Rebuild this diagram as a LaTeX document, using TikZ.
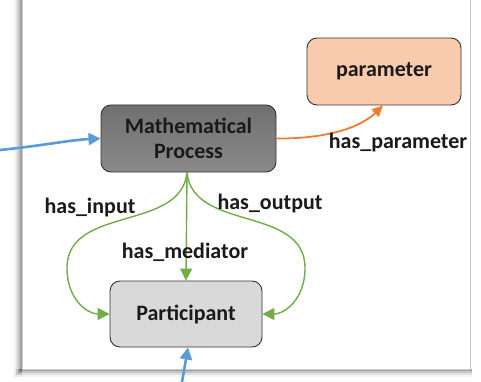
\documentclass[tikz,border=0pt]{standalone}
\usepackage{fontspec}
\setmainfont{Carlito}
\usetikzlibrary{arrows.meta}
\definecolor{txt}{HTML}{1A1A1A}
\definecolor{linkgreen}{HTML}{70AD47}
\definecolor{linkblue}{HTML}{5B9BD5}
\definecolor{linkorange}{HTML}{ED7D31}
\definecolor{peach}{HTML}{F8CBAD}
\definecolor{lightbox}{HTML}{D9D9D9}
\tikzset{
  box/.style={draw=black!80, line width=0.9pt, rounded corners=10pt, inner sep=0pt,
    font=\bfseries\fontsize{22}{25}\selectfont, text=txt, align=center},
  rel/.style={font=\bfseries\fontsize{22}{25}\selectfont, text=txt, inner sep=0pt},
  gline/.style={draw=linkgreen, line width=1.4pt, -{Triangle[length=12pt,width=12pt]}},
  bline/.style={draw=linkblue, line width=2.6pt, -{Triangle[length=12pt,width=12pt]}},
  oline/.style={draw=linkorange, line width=1.8pt, -{Triangle[length=11pt,width=10pt]}}
}
\begin{document}
\begin{tikzpicture}[x=1pt,y=-1pt]
\useasboundingbox (0,0) rectangle (481,382);
\fill[white] (0,0) rectangle (481,382);
% panel with soft shadow on the left and at the bottom
\foreach \i/\o in {8/0.04,6/0.08,4/0.12,2/0.18,0/0.25}{
  \fill[black,opacity=\o] (22-\i,0) rectangle (22,369+\i);
  \fill[black,opacity=\o] (22-\i,369) rectangle (472,369+\i);
}
\fill[white] (22,0) rectangle (470,369);
\draw[black!20, line width=0.6pt] (22,0) -- (22,369) -- (470,369) -- (470,0);

% nodes
\node[box, minimum width=175pt, minimum height=67pt,
  top color=black!56, bottom color=black!46] (mp) at (188.5,138.5) {Mathematical\\Process};
\node[box, minimum width=154pt, minimum height=67pt, fill=peach] (par) at (384,71.5) {parameter};
\node[box, minimum width=152pt, minimum height=66pt, fill=lightbox] (pt) at (186,314) {Participant};

% incoming blue links
\coordinate (inl) at (0,150);
\coordinate (inb) at (182,382);
\draw[bline] (inl) .. controls (40,146) and (70,140) .. (mp.west);
\draw[bline] (inb) -- (188,347.5);

% parameter link
\draw[oline] (mp.east) .. controls (330,139) and (362,126) .. (383,105.5);
\node[rel] (lpar) at (398,143) {has\_parameter};

% participant links
\coordinate (mps) at (187,172);
\draw[gline] (mps) .. controls (182,232) and (67,205) .. (67,268)
  .. controls (67,300) and (88,314) .. (pt.west);
\draw[gline] (mps) .. controls (192,232) and (305,205) .. (305,268)
  .. controls (305,300) and (284,314) .. (pt.east);
\draw[gline] (mps) -- (pt.north);

\node[rel] (lin) at (90,208) {has\_input};
\node[rel] (lout) at (270,204) {has\_output};
\node[rel] (lmed) at (185,252) {has\_mediator};
\end{tikzpicture}
\end{document}
